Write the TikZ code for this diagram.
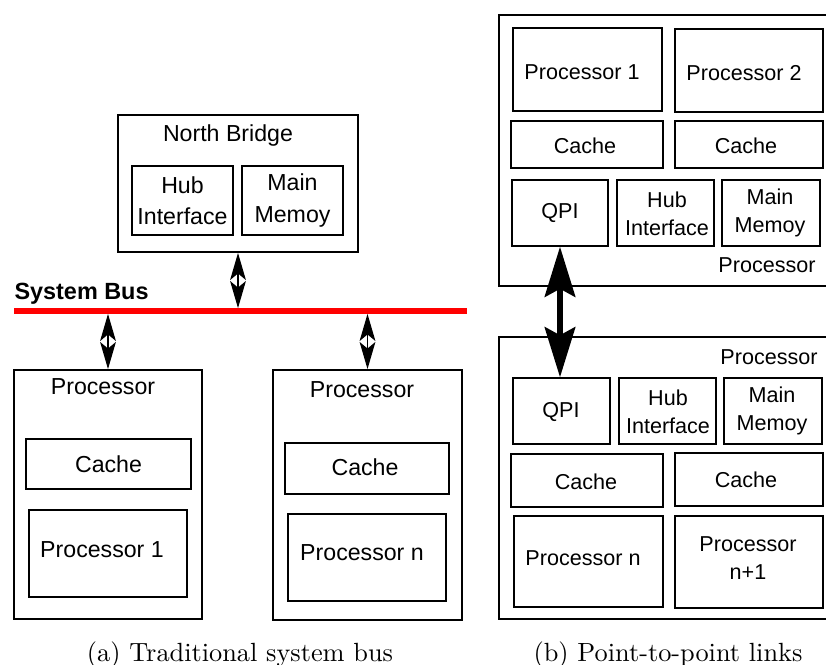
\documentclass[tikz,border=0pt]{standalone}
\usepackage{fontspec}
\newfontfamily\arial{Liberation Sans}
\usetikzlibrary{arrows.meta,fit}

\tikzset{
  blk/.style={draw, inner sep=0pt, line width=0.5pt},
  outer/.style={draw, inner sep=0pt, line width=0.7pt},
  chip/.style={draw, inner sep=0pt, line width=1pt},
  ltxt/.style={font=\arial\fontsize{8.8}{11.8}\selectfont, align=center, inner sep=0pt},
  rtxt/.style={font=\arial\fontsize{8.2}{10.6}\selectfont, align=center, inner sep=0pt},
  busarrow/.style={line width=0.5pt, {Stealth[length=10.3pt,width=6pt,inset=2.5pt]}-{Stealth[length=10.3pt,width=6pt,inset=2.5pt]}},
  qpiarrow/.style={line width=2.5pt, {Stealth[length=19pt,width=11.5pt,inset=3pt]}-{Stealth[length=19pt,width=11.5pt,inset=3pt]}}
}

\begin{document}
\begin{tikzpicture}[x=0.38pt, y=-0.38pt]
  \clip (0,0) rectangle (826,664);

  % (a) traditional system bus
  \node[outer, fit={(118,115) (358,252)}] (nb) {};
  \node[ltxt] (nbt) at (228,136) {North Bridge};
  \node[blk, fit={(132,166) (233,235)}] (nbhub) {};
  \node[ltxt] (nbhubt) at (nbhub) {Hub\\Interface};
  \node[blk, fit={(242,166) (343,235)}] (nbmem) {};
  \node[ltxt] (nbmemt) at (nbmem) {Main\\Memoy};

  \coordinate (busL) at (14,311);
  \coordinate (busR) at (467,311);
  \draw[red, line width=2.2pt] (busL) -- (busR);
  \node[font=\arial\bfseries\fontsize{8.9}{10}\selectfont, anchor=west, inner sep=0pt] (bust) at (14,294) {System Bus};

  \node[outer, fit={(14,370) (202,619)}] (pa) {};
  \node[ltxt] (pat) at (103,387) {Processor};
  \node[blk, fit={(26,439) (191,489)}] (pacache) {};
  \node[ltxt] (pacachet) at (pacache) {Cache};
  \node[blk, fit={(29,510) (187,597)}] (pacore) {};
  \node[ltxt] (pacoret) at (102,550) {Processor 1};

  \node[outer, fit={(273,370) (462,620)}] (pb) {};
  \node[ltxt] (pbt) at (362,390) {Processor};
  \node[blk, fit={(285,443) (449,494)}] (pbcache) {};
  \node[ltxt] (pbcachet) at (365,467) {Cache};
  \node[blk, fit={(288,514) (446,601)}] (pbcore) {};
  \node[ltxt] (pbcoret) at (362,553) {Processor n};

  \draw[busarrow, shorten >=1.1pt] (nb.south) -- (nb.south |- busL);
  \draw[busarrow, shorten <=1.1pt] (pa.north |- busL) -- (pa.north);
  \draw[busarrow, shorten <=1.1pt] (pb.north |- busL) -- (pb.north);

  % (b) point-to-point links
  \node[chip, fit={(499,15) (840,286)}] (sa) {};
  \node[blk, fit={(513,28) (662,111)}] (sacore1) {};
  \node[rtxt] (sacore1t) at (582,72) {Processor 1};
  \node[blk, fit={(675,29) (823,112)}] (sacore2) {};
  \node[rtxt] (sacore2t) at (744,73) {Processor 2};
  \node[blk, fit={(511,121) (663,168)}] (sacache1) {};
  \node[rtxt] (sacache1t) at (585,146) {Cache};
  \node[blk, fit={(675,121) (823,168)}] (sacache2) {};
  \node[rtxt] (sacache2t) at (746,146) {Cache};
  \node[blk, fit={(512,180) (608,246)}] (saqpi) {};
  \node[rtxt] (saqpit) at (saqpi) {QPI};
  \node[blk, fit={(617,180) (714,246)}] (sahub) {};
  \node[rtxt] (sahubt) at (667,214) {Hub\\Interface};
  \node[blk, fit={(722,180) (820,246)}] (samem) {};
  \node[rtxt] (samemt) at (770,213) {Main\\Memoy};
  \node[rtxt] (sat) at (767,265) {Processor};

  \node[chip, fit={(499,337) (840,619)}] (sb) {};
  \node[rtxt] (sbt) at (769,357) {Processor};
  \node[blk, fit={(513,378) (610,444)}] (sbqpi) {};
  \node[rtxt] (sbqpit) at (561,412) {QPI};
  \node[blk, fit={(619,378) (716,444)}] (sbhub) {};
  \node[rtxt] (sbhubt) at (668,412) {Hub\\Interface};
  \node[blk, fit={(724,378) (822,444)}] (sbmem) {};
  \node[rtxt] (sbmemt) at (772,411) {Main\\Memoy};
  \node[blk, fit={(511,454) (663,507)}] (sbcache1) {};
  \node[rtxt] (sbcache1t) at (586,482) {Cache};
  \node[blk, fit={(675,453) (823,506)}] (sbcache2) {};
  \node[rtxt] (sbcache2t) at (746,480) {Cache};
  \node[blk, fit={(514,516) (663,607)}] (sbcore1) {};
  \node[rtxt] (sbcore1t) at (583,558) {Processor n};
  \node[blk, fit={(675,516) (823,608)}] (sbcore2) {};
  \node[rtxt] (sbcore2t) at (748,558) {Processor\\n+1};

  \draw[qpiarrow] (saqpi.south) -- (saqpi.south |- sbqpi.north);

  % captions
  \node (capa) at (240,655) {(a) Traditional system bus};
  \node (capb) at (668,655) {(b) Point-to-point links};
\end{tikzpicture}
\end{document}
